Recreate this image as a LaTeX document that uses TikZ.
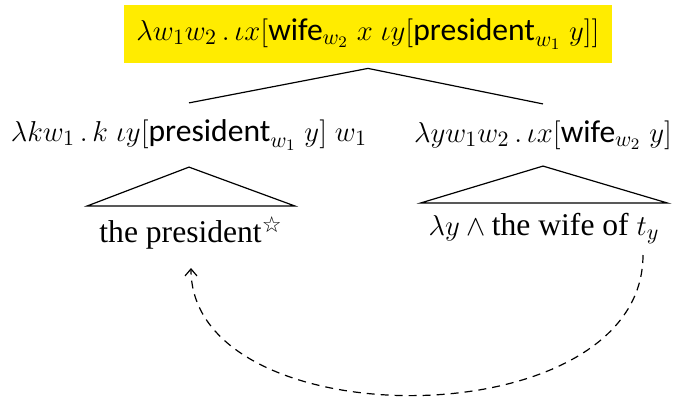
\documentclass[tikz,border=0pt]{standalone}
\usepackage{fontspec}
\usetikzlibrary{arrows.meta}
\setmainfont{Liberation Serif}
\setsansfont{Carlito}
\newfontfamily\starfont{DejaVu Sans}
\definecolor{hlyellow}{RGB}{255,236,0}
\tikzset{
  sem/.style={inner xsep=0pt, inner ysep=8pt},
  leaf/.style={anchor=north, inner xsep=0pt, inner ysep=5pt},
  branch/.style={line width=0.6pt},
  move/.style={dash pattern=on 4pt off 3pt, -{Straight Barb[length=3.5pt,width=6pt]}, line width=0.6pt}
}
\begin{document}
\begin{tikzpicture}[x=0.5pt, y=-0.5pt, font=\fontsize{15.8}{18}\selectfont]
  \useasboundingbox (0,0) rectangle (676,398);
  % root with highlight
  \node[fill=hlyellow, minimum width=244pt, minimum height=29pt, inner sep=0pt] (root) at (368,34)
    {$\lambda w_1 w_2\,.\,\iota x[\textsf{wife}_{w_2}\ x\ \iota y[\textsf{president}_{w_1}\ y]]$};
  % daughters
  \node[sem] (lnode) at (189,135) {$\lambda k w_1\,.\,k\ \iota y[\textsf{president}_{w_1}\ y]\ w_1$};
  \node[sem] (rnode) at (543,135) {$\lambda y w_1 w_2\,.\,\iota x[\textsf{wife}_{w_2}\ y]$};
  \draw[branch] ([yshift=-2.5pt]root.south) -- (lnode.north);
  \draw[branch] ([yshift=-2.5pt]root.south) -- (rnode.north);
  % leaves under triangles
  \node[leaf, minimum width=103.5pt] (lleaf) at (191,206)
    {the president\textsuperscript{\starfont ☆}};
  \node[leaf, minimum width=123pt] (rleaf) at (544,203)
    {$\lambda y \wedge{}$the wife of $t_y$};
  \draw[branch] (lnode.south) -- (lleaf.north west) -- (lleaf.north east) -- cycle;
  \draw[branch] (rnode.south) -- (rleaf.north west) -- (rleaf.north east) -- cycle;
  % movement
  \coordinate (trace) at (643,255);
  \coordinate (landing) at (191,268);
  \draw[move] (trace) .. controls (643,440) and (191,440) .. (landing);
\end{tikzpicture}
\end{document}
